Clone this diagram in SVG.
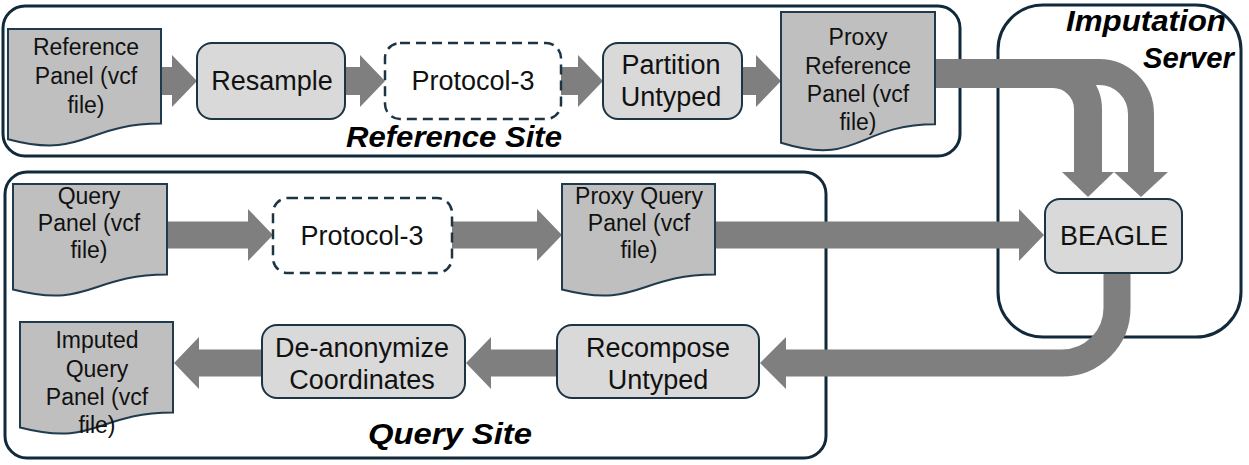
<svg xmlns="http://www.w3.org/2000/svg" width="1249" height="465" viewBox="0 0 1249 465">
<style>
  .container{fill:none;stroke:#10293b;stroke-width:3}
  .proc{fill:#d9d9d9;stroke:#1c3444;stroke-width:2}
  .dash{fill:#ffffff;stroke:#1c3444;stroke-width:2.5;stroke-dasharray:10 6}
  .doc{fill:#bfbfbf;stroke:#1f3b4d;stroke-width:2}
  .arrow{fill:#7f7f7f;stroke:none}
  .shaft{fill:none;stroke:#7f7f7f;stroke-linecap:butt}
  text{font-family:"Liberation Sans",Arial,sans-serif;fill:#111111;text-anchor:middle}
  .t23{font-size:23px}
  .t27{font-size:27px}
  .lbl{font-size:29px;font-weight:bold;font-style:italic;fill:#000000}
</style>
<rect class="container" x="3" y="6" width="957" height="150" rx="22"/>
<rect class="container" x="998" y="5" width="243" height="332" rx="45"/>
<rect class="container" x="5" y="172" width="821" height="286" rx="22"/>

<g id="connectors">
  <path class="arrow" d="M161,67 H172 V55 L197,81 L172,107 V95 H161 Z"/>
  <path class="arrow" d="M345,67 H360 V55 L385,81 L360,107 V95 H345 Z"/>
  <path class="arrow" d="M561,67 H578 V55 L603,81 L578,107 V95 H561 Z"/>
  <path class="arrow" d="M742,67 H756 V55 L781,81 L756,107 V95 H742 Z"/>
  <path class="shaft" stroke-width="26" d="M933,72 H1099 A42,42 0 0 1 1141,114 V173"/>
  <path class="shaft" stroke-width="28" d="M933,74 H1053 A35,35 0 0 1 1088,109 V173"/>
  <polygon class="arrow" points="1062,172 1114,172 1088,197"/>
  <polygon class="arrow" points="1114,172 1168,172 1141,197"/>
  <path class="arrow" d="M167,221.5 H248 V209 L273,235 L248,261 V248.5 H167 Z"/>
  <path class="arrow" d="M452,221.5 H537 V209 L562,235 L537,261 V248.5 H452 Z"/>
  <path class="arrow" d="M715,221.5 H1019 V209 L1044,235 L1019,261 V248.5 H715 Z"/>
  <path class="shaft" stroke-width="27" d="M1117,272 V308 A55,55 0 0 1 1062,363 H785"/>
  <polygon class="arrow" points="786,337 760,363 786,389"/>
  <path class="arrow" d="M557,349.5 H491 V337 L466,363 L491,389 V376.5 H557 Z"/>
  <path class="arrow" d="M262,349.5 H199 V337 L174,363 L199,389 V376.5 H262 Z"/>
</g>

<g id="ref-panel">
  <path class="doc" d="M8,29 H161 V123.6 C84.5,123.6 84.5,159.7 8,139.2 Z"/>
  <text class="t23" x="86" y="55">Reference</text>
  <text class="t23" x="86" y="84">Panel (vcf</text>
  <text class="t23" x="86" y="113">file)</text>
</g>
<g id="resample">
  <rect class="proc" x="197" y="43" width="148" height="76" rx="15"/>
  <text class="t27" x="272" y="90">Resample</text>
</g>
<g id="protocol3-ref">
  <rect class="dash" x="385" y="43" width="176" height="76" rx="15"/>
  <text class="t27" x="473" y="90">Protocol-3</text>
</g>
<g id="partition">
  <rect class="proc" x="603" y="43" width="139" height="76" rx="15"/>
  <text class="t27" x="671" y="74">Partition</text>
  <text class="t27" x="671" y="106">Untyped</text>
</g>
<g id="proxy-ref-panel">
  <path class="doc" d="M781,12 H935 V124.3 C858,124.3 858,167 781,142.8 Z"/>
  <text class="t23" x="858" y="45">Proxy</text>
  <text class="t23" x="858" y="74">Reference</text>
  <text class="t23" x="858" y="102">Panel (vcf</text>
  <text class="t23" x="858" y="130">file)</text>
</g>
<g id="beagle">
  <rect class="proc" x="1045" y="199" width="137" height="74" rx="15"/>
  <text class="t27" x="1114" y="245">BEAGLE</text>
</g>
<g id="query-panel">
  <path class="doc" d="M13,184 H167 V274.6 C90,274.6 90,309.2 13,289.5 Z"/>
  <text class="t23" x="89" y="204">Query</text>
  <text class="t23" x="89" y="231">Panel (vcf</text>
  <text class="t23" x="89" y="258">file)</text>
</g>
<g id="protocol3-query">
  <rect class="dash" x="273" y="198" width="179" height="75" rx="15"/>
  <text class="t27" x="362" y="245">Protocol-3</text>
</g>
<g id="proxy-query-panel">
  <path class="doc" d="M562,184 H715 V274.6 C638.5,274.6 638.5,309.2 562,289.5 Z"/>
  <text class="t23" x="639" y="204">Proxy Query</text>
  <text class="t23" x="639" y="231">Panel (vcf</text>
  <text class="t23" x="639" y="258">file)</text>
</g>
<g id="recompose">
  <rect class="proc" x="557" y="325" width="202" height="73" rx="15"/>
  <text class="t27" x="658" y="357">Recompose</text>
  <text class="t27" x="658" y="389">Untyped</text>
</g>
<g id="deanonymize">
  <rect class="proc" x="262" y="325" width="203" height="73" rx="15"/>
  <text class="t27" x="362" y="357">De-anonymize</text>
  <text class="t27" x="362" y="389">Coordinates</text>
</g>
<g id="imputed-query-panel">
  <path class="doc" d="M20,322 H173 V412.6 C96.5,412.6 96.5,447.2 20,427.5 Z"/>
  <text class="t23" x="97" y="348">Imputed</text>
  <text class="t23" x="97" y="377">Query</text>
  <text class="t23" x="97" y="405">Panel (vcf</text>
  <text class="t23" x="97" y="433">file)</text>
</g>

<g id="labels">
  <text class="lbl" x="454" y="147" textLength="216" lengthAdjust="spacingAndGlyphs">Reference Site</text>
  <text class="lbl" x="450" y="444" textLength="164" lengthAdjust="spacingAndGlyphs">Query Site</text>
  <text class="lbl" x="1226" y="31" style="text-anchor:end" textLength="160" lengthAdjust="spacingAndGlyphs">Imputation</text>
  <text class="lbl" x="1234" y="68" style="text-anchor:end" textLength="91" lengthAdjust="spacingAndGlyphs">Server</text>
</g>
</svg>
